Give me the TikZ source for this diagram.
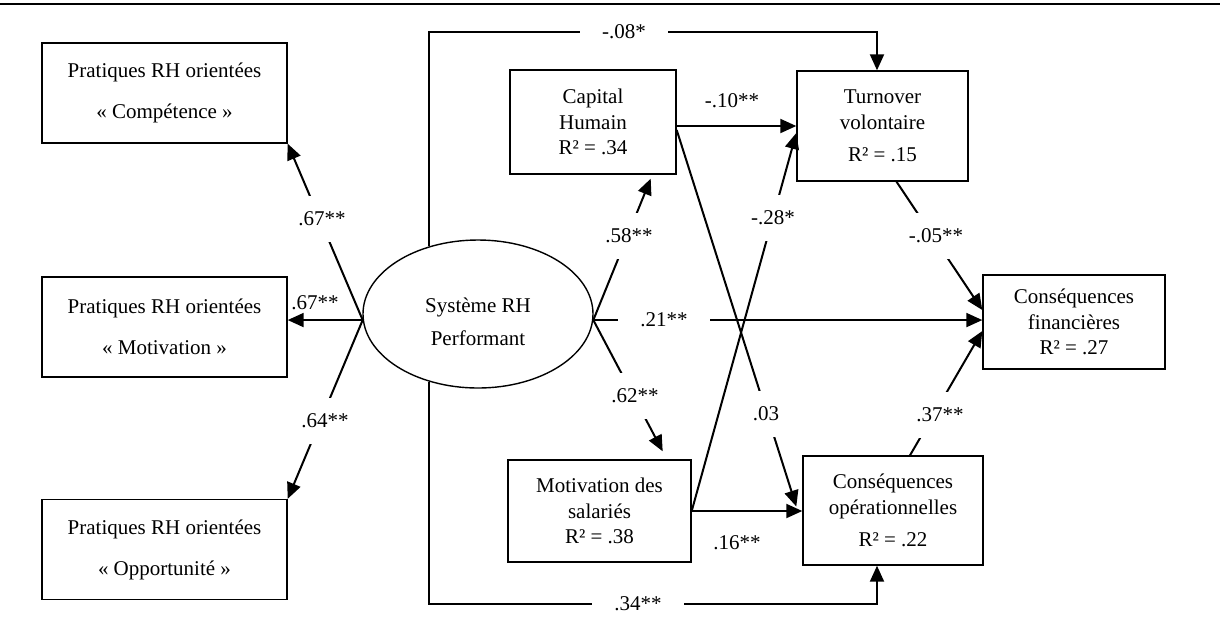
\documentclass[tikz,border=0pt]{standalone}
\usepackage{fontspec}
\setmainfont{Liberation Serif}
\usetikzlibrary{arrows.meta,shapes.geometric}

\tikzset{
  box/.style={draw, line width=0.7pt, align=center, inner sep=0pt},
  lab/.style={fill=white, inner xsep=11pt, inner ysep=0pt, minimum height=23pt},
  txt/.style={inner sep=0pt},
  link/.style={line width=1pt, -{Triangle[length=8pt,width=7pt]}},
}

\begin{document}
\begin{tikzpicture}[x=0.5pt, y=-0.5pt, font=\fontsize{10.5}{12.75}\selectfont]
\useasboundingbox (0,0) rectangle (1220,634);
\draw[line width=1.3pt] (0,4) -- (1220,4);

\node[box, minimum width=122.5pt, minimum height=50pt] (comp) at (164.5,93) {Pratiques RH orientées\\[7.75pt]« Compétence »};
\node[box, minimum width=122.5pt, minimum height=50pt] (moti) at (164.5,327) {Pratiques RH orientées\\[7.75pt]« Motivation »};
\node[box, minimum width=122.5pt, minimum height=50pt] (oppo) at (164.5,549.5) {Pratiques RH orientées\\[7.75pt]« Opportunité »};
\node[ellipse, draw, line width=0.7pt, inner sep=0pt, minimum width=115pt, minimum height=74pt] (sys) at (478,314) {};
\node[txt, align=center] (systxt) at (478,321.5) {Système RH\\[3.75pt]Performant};

\node[box, minimum width=83pt, minimum height=52pt] (cap) at (593,122) {Capital\\Humain\\R² = .34};
\node[box, minimum width=91.5pt, minimum height=51pt] (msal) at (599.5,511) {Motivation des\\salariés\\R² = .38};
\node[box, minimum width=85.5pt, minimum height=55pt] (turn) at (882.5,126) {Turnover\\volontaire\\[3.25pt]R² = .15};
\node[box, minimum width=91pt, minimum height=47pt] (cfin) at (1074,322) {Conséquences\\financières\\R² = .27};
\node[box, minimum width=90pt, minimum height=54.5pt] (cope) at (893,510.5) {Conséquences\\opérationnelles\\[3.25pt]R² = .22};

\coordinate (topR) at (877,32);
\coordinate (botR) at (877,604);

\draw[link] (sys.183) -- (comp.south east);
\draw[link] (sys.183) -- (sys.183 -| moti.east);
\draw[link] (sys.183) -- (oppo.north east);
\draw[link] (sys.-3) -- ([xshift=-13pt,yshift=-2pt]cap.south east);
\draw[link] (sys.-3) -- ([xshift=-14.5pt,yshift=4pt]msal.north east);
\draw[link] (sys.-3) -- (sys.-3 -| cfin.west);
\draw[link] (cap.east |- turn.west) -- (turn.west);
\draw[link] ([yshift=-4pt]cap.east) -- ([xshift=-3pt,yshift=2pt]cope.west);
\draw[link] (msal.east) -- ([yshift=-3.5pt]turn.west);
\draw[link] (msal.east) -- (msal.east -| cope.west);
\draw[link] ([xshift=7pt]turn.south) -- ([yshift=6pt]cfin.west);
\draw[link] ([xshift=8.5pt]cope.north) -- ([yshift=-4.5pt]cfin.west);
\draw[link] (sys.126) |- (topR) -- (topR |- turn.north);
\draw[link] (sys.-126) |- (botR) -- (botR |- cope.south);

\node[lab] (l1) at (322,219) {.67**};
\node[txt] (l2) at (315,303) {.67**};
\node[lab] (l3) at (325,421) {.64**};
\node[lab] (l4) at (629,236) {.58**};
\node[lab] (l5) at (635,396) {.62**};
\node[lab] (l6) at (664,320) {.21**};
\node[lab] (l7) at (773,218) {-.28*};
\node[lab] (l8) at (766,414) {.03};
\node[txt] (l9) at (732,101) {-.10**};
\node[txt] (l10) at (737,543) {.16**};
\node[lab] (l11) at (936,236) {-.05**};
\node[lab] (l12) at (940,415) {.37**};
\node[lab] (l13) at (624,32) {-.08*};
\node[lab] (l14) at (638,604) {.34**};
\end{tikzpicture}
\end{document}
